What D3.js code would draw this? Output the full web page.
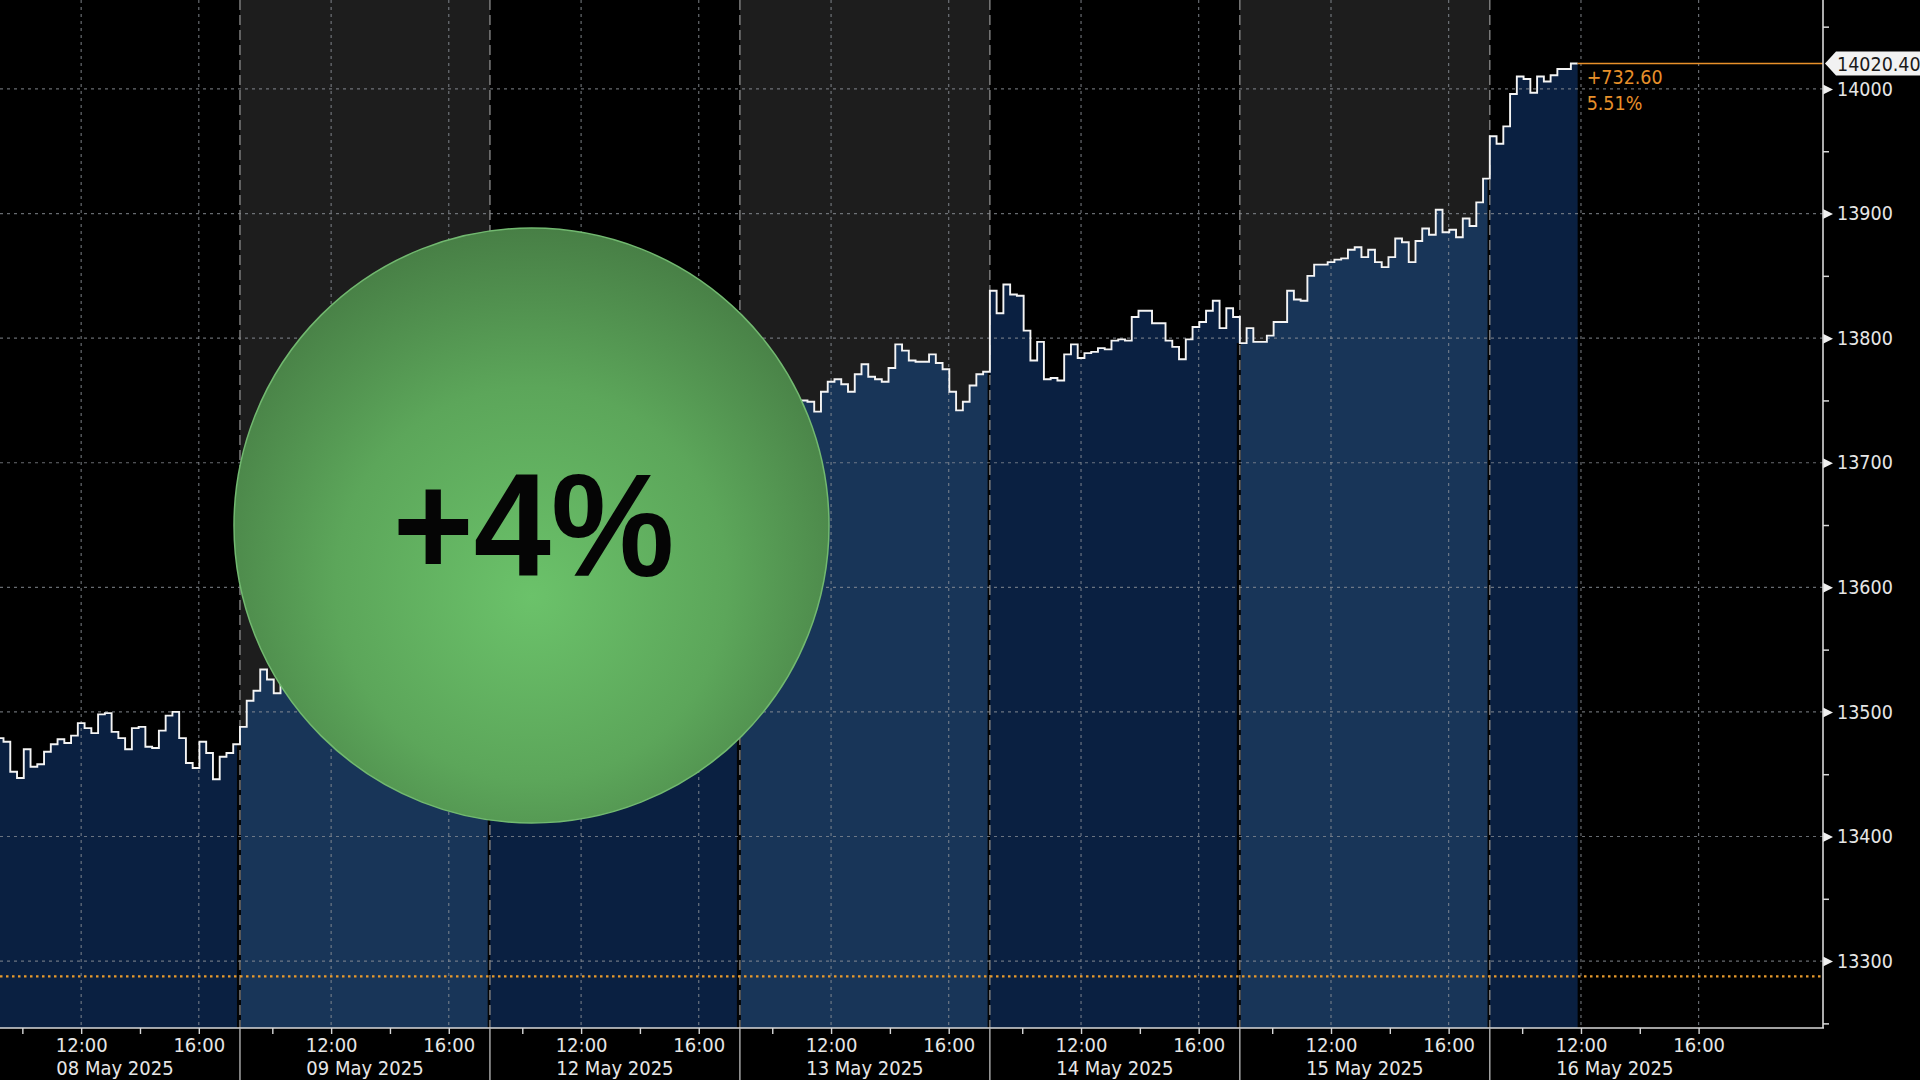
<!DOCTYPE html>
<html><head><meta charset="utf-8">
<script src="https://cdn.jsdelivr.net/npm/d3@7/dist/d3.min.js"></script>
<style>
html,body{margin:0;padding:0;background:#000;overflow:hidden}
svg{display:block}
.cond{font-family:"DejaVu Sans Condensed","DejaVu Sans",sans-serif;font-stretch:condensed}
</style></head><body>
<svg id="c" width="1920" height="1080"></svg>
<script>
// ---------------- DATA ----------------
const dayLabels = ["08 May 2025","09 May 2025","12 May 2025","13 May 2025","14 May 2025","15 May 2025","16 May 2025"];
const shadedDays = [false,true,false,true,false,true,false];
const may08 = [13485,13479,13476,13452,13447,13470,13456,13458,13468,13474,13478,13475,13481,13491,13487,13483,13498,13499,13484,13479,13470,13487,13488,13472,13471,13485,13497,13500,13479,13459,13455,13476,13467,13446,13464,13467,13474];
const may09 = [13488,13509,13517,13534,13526,13515,13522,13530,13541,13536,13546,13552,13547,13556,13561,13553,13558,13566,13571,13562,13568,13576,13572,13580,13575,13584,13590,13584,13592,13587,13595,13601,13594,13598,13606,13600,13608];
const may12 = [13660,13672,13685,13680,13692,13700,13695,13704,13710,13702,13708,13715,13720,13712,13718,13725,13730,13722,13716,13724,13732,13738,13730,13726,13735,13742,13736,13730,13738,13745,13740,13734,13728,13736,13742,13738,13732];
const may13 = [13705,13716,13726,13735,13742,13750,13746,13754,13750,13750,13749,13741,13757,13765,13767,13763,13757,13771,13779,13769,13767,13765,13776,13795,13790,13782,13781,13781,13787,13780,13775,13757,13742,13749,13762,13771,13773];
const may14 = [13838,13820,13843,13835,13834,13806,13782,13797,13767,13768,13766,13787,13795,13784,13788,13789,13792,13791,13798,13799,13798,13817,13822,13822,13812,13812,13798,13793,13783,13799,13809,13813,13822,13830,13808,13824,13817];
const may15 = [13796,13808,13797,13797,13802,13813,13813,13838,13831,13830,13850,13859,13859,13861,13863,13864,13871,13873,13865,13871,13861,13857,13865,13880,13877,13861,13878,13888,13883,13903,13885,13887,13881,13896,13890,13909,13928];
const may16 = [13962,13956,13970,13996,14010,14008,13997,14010,14006,14011,14016,14016,14020.4];
const dayValues = [may08,may09,may12,may13,may14,may15,may16];
const yTicks = [13300,13400,13500,13600,13700,13800,13900,14000];
const yMinorTicks = [13250,13350,13450,13550,13650,13750,13850,13950,14050];
const hourTicks = [10,12,14,16];
const hourLabels = {12:"12:00",16:"16:00"};
const lastValue = 14020.40;
const lastLabel = "14020.40";
const changeLabel = "+732.60";
const changePctLabel = "5.51%";
const prevClose = 13287.80;
const badgeText = "+4%";

// ---------------- LAYOUT ----------------
const W = 1920, H = 1080;
const plotR = 1823, plotB = 1028;
const SESSION_START = 8.9, SESSION_LEN = 8.5, BARS_PER_DAY = 37;
const barW = SESSION_LEN / BARS_PER_DAY;

const x = d3.scaleLinear().domain([0.34, 62.33]).range([0, plotR]);
const y = d3.scaleLinear().domain([13246.3, 14071.4]).range([plotB, 0]);
const tHour = (k, h) => k * SESSION_LEN + (h - SESSION_START);

const svg = d3.select("#c");
const defs = svg.append("defs");
defs.append("clipPath").attr("id","plotclip").append("rect")
  .attr("x",0).attr("y",0).attr("width",plotR).attr("height",plotB);
const rg = defs.append("radialGradient").attr("id","greenG")
  .attr("cx","50%").attr("cy","58%").attr("r","60%").attr("fx","50%").attr("fy","62%");
rg.append("stop").attr("offset","0%").attr("stop-color","#6bc26a");
rg.append("stop").attr("offset","55%").attr("stop-color","#5ca65a");
rg.append("stop").attr("offset","100%").attr("stop-color","#467c44");

svg.append("rect").attr("width",W).attr("height",H).attr("fill","#000");

const plot = svg.append("g").attr("clip-path","url(#plotclip)");

// shaded day backgrounds
dayLabels.forEach((d,k)=>{
  if(shadedDays[k]){
    plot.append("rect")
      .attr("x", x(k*SESSION_LEN)).attr("y",0)
      .attr("width", x((k+1)*SESSION_LEN)-x(k*SESSION_LEN)).attr("height",plotB)
      .attr("fill","#1d1d1d");
  }
});

// step points
const dayPoints = dayValues.map((vals,k)=>vals.flatMap((v,i)=>[
  [k*SESSION_LEN + i*barW, v],[k*SESSION_LEN + (i+1)*barW, v]
]));

const area = d3.area().x(d=>x(d[0])).y0(plotB).y1(d=>y(d[1]));
dayPoints.forEach((pts,k)=>{
  plot.append("path").attr("d",area(pts))
    .attr("fill", shadedDays[k] ? "#183558" : "#0a2041");
});

// black gaps at separators inside area
for(let k=1;k<dayValues.length;k++){
  const prev = dayValues[k-1][dayValues[k-1].length-1];
  const next = dayValues[k][0];
  plot.append("line")
    .attr("x1",x(k*SESSION_LEN)-1).attr("x2",x(k*SESSION_LEN)-1)
    .attr("y1",y(Math.min(prev,next))).attr("y2",plotB)
    .attr("stroke","#040404").attr("stroke-width",shadedDays[k] ? 4 : 2.5);
}

// horizontal grid
plot.selectAll(".hg").data(yTicks).join("line")
  .attr("x1",0).attr("x2",plotR)
  .attr("y1",d=>y(d)).attr("y2",d=>y(d))
  .attr("stroke","#8a8f96").attr("stroke-width",1.2).attr("stroke-dasharray","3,4").attr("opacity",0.75);

// vertical grid at 12:00 and 16:00
const vGrid = [];
dayLabels.forEach((d,k)=>[12,16].forEach(h=>vGrid.push(tHour(k,h))));
plot.selectAll(".vg").data(vGrid).join("line")
  .attr("x1",d=>x(d)).attr("x2",d=>x(d))
  .attr("y1",0).attr("y2",plotB)
  .attr("stroke","#8a8f96").attr("stroke-width",1.2).attr("stroke-dasharray","3,4").attr("opacity",0.75);

// day separators (dashed)
const seps = d3.range(1,dayLabels.length).map(k=>k*SESSION_LEN);
plot.selectAll(".sep").data(seps).join("line")
  .attr("x1",d=>x(d)).attr("x2",d=>x(d))
  .attr("y1",0).attr("y2",plotB)
  .attr("stroke","#8c8c8c").attr("stroke-width",1.3).attr("stroke-dasharray","10,5");

// prev close dotted orange
plot.append("line").attr("x1",0).attr("x2",plotR)
  .attr("y1",y(prevClose)).attr("y2",y(prevClose))
  .attr("stroke","#e89a2c").attr("stroke-width",2.2).attr("stroke-dasharray","2.5,3.5");

// price step line
const allPts = dayPoints.flat();
const line = d3.line().x(d=>x(d[0])).y(d=>y(d[1]));
plot.append("path").attr("d",line(allPts))
  .attr("fill","none").attr("stroke","#f4f4f4").attr("stroke-width",1.9);

// last value orange line
const lastT = allPts[allPts.length-1][0];
svg.append("line").attr("x1",x(lastT)).attr("x2",plotR)
  .attr("y1",y(lastValue)).attr("y2",y(lastValue))
  .attr("stroke","#e8902a").attr("stroke-width",1.6);
svg.append("text").attr("class","cond").attr("x",x(lastT)+9).attr("y",y(lastValue)+20)
  .attr("fill","#e8902a").attr("font-size",19.5).text(changeLabel);
svg.append("text").attr("class","cond").attr("x",x(lastT)+9).attr("y",y(lastValue)+46)
  .attr("fill","#e8902a").attr("font-size",19.5).text(changePctLabel);

// ---------- Y axis ----------
const yAxisG = svg.append("g").attr("transform",`translate(${plotR},0)`);
yAxisG.call(d3.axisRight(y).tickValues(yMinorTicks).tickSize(6).tickFormat(""));
yAxisG.select(".domain").remove();
yAxisG.selectAll("line").attr("stroke","#d8d8d8").attr("stroke-width",1.5);
const yAxisMain = svg.append("g").attr("transform",`translate(${plotR},0)`);
yAxisMain.call(d3.axisRight(y).tickValues(yTicks).tickSize(0).tickPadding(14).tickFormat(d3.format("d")));
yAxisMain.select(".domain").remove();
yAxisMain.selectAll("text").attr("class","cond").attr("font-size",19.5).attr("fill","#e6e6e6")
  .attr("font-family",'"DejaVu Sans Condensed","DejaVu Sans",sans-serif');
yAxisMain.selectAll(".tick").append("path").attr("d","M0,-5L10,0L0,5Z").attr("fill","#f0f0f0");
svg.append("line").attr("x1",plotR).attr("x2",plotR).attr("y1",0).attr("y2",plotB)
  .attr("stroke","#d8d8d8").attr("stroke-width",1.6);

// price tag
const ty = y(lastValue);
svg.append("path")
  .attr("d",`M${plotR+2},${ty} L${plotR+13},${ty-12} L${W},${ty-12} L${W},${ty+12} L${plotR+13},${ty+12} Z`)
  .attr("fill","#f2f2f2");
svg.append("text").attr("class","cond").attr("x",plotR+14).attr("y",ty).attr("dy","0.36em")
  .attr("font-size",19.5).attr("fill","#1a1a1a").text(lastLabel);

// ---------- X axis ----------
const xTickT = [];
const xTickLab = new Map();
dayLabels.forEach((d,k)=>hourTicks.forEach(h=>{const t=tHour(k,h); xTickT.push(t); xTickLab.set(t, hourLabels[h]||"");}));
const xAxisG = svg.append("g").attr("transform",`translate(0,${plotB})`);
xAxisG.call(d3.axisBottom(x).tickValues(xTickT).tickSize(6).tickPadding(4).tickFormat(t=>xTickLab.get(t)));
xAxisG.select(".domain").remove();
xAxisG.selectAll("line").attr("stroke","#d8d8d8").attr("stroke-width",1.4);
xAxisG.selectAll("text").attr("font-size",20).attr("fill","#e6e6e6")
  .attr("font-family",'"DejaVu Sans Condensed","DejaVu Sans",sans-serif').attr("font-stretch","condensed");
svg.append("line").attr("x1",0).attr("x2",plotR+1).attr("y1",plotB).attr("y2",plotB)
  .attr("stroke","#d8d8d8").attr("stroke-width",1.6);
// separators below axis
svg.selectAll(".sepb").data(seps).join("line")
  .attr("x1",d=>x(d)).attr("x2",d=>x(d)).attr("y1",plotB).attr("y2",H)
  .attr("stroke","#bdbdbd").attr("stroke-width",1.3);
// date labels
svg.selectAll(".dl").data(dayLabels).join("text")
  .attr("class","cond").attr("x",(d,k)=>x(k*SESSION_LEN+SESSION_LEN/2)).attr("y",1075)
  .attr("text-anchor","middle").attr("font-size",20).attr("fill","#e6e6e6").text(d=>d);

// ---------- badge ----------
const cx = 531.5, cy = 525.5, r = 297.5;
svg.append("circle").attr("cx",cx).attr("cy",cy).attr("r",r)
  .attr("fill","url(#greenG)").attr("stroke","#72b970").attr("stroke-width",1.5);
svg.append("text")
  .attr("transform",`translate(${cx+2},${cy+50}) scale(0.95,1)`)
  .attr("text-anchor","middle")
  .attr("font-family",'"Liberation Sans",Arial,sans-serif').attr("font-weight","bold")
  .attr("font-size",146).attr("fill","#050505").text(badgeText);
</script>
</body></html>
